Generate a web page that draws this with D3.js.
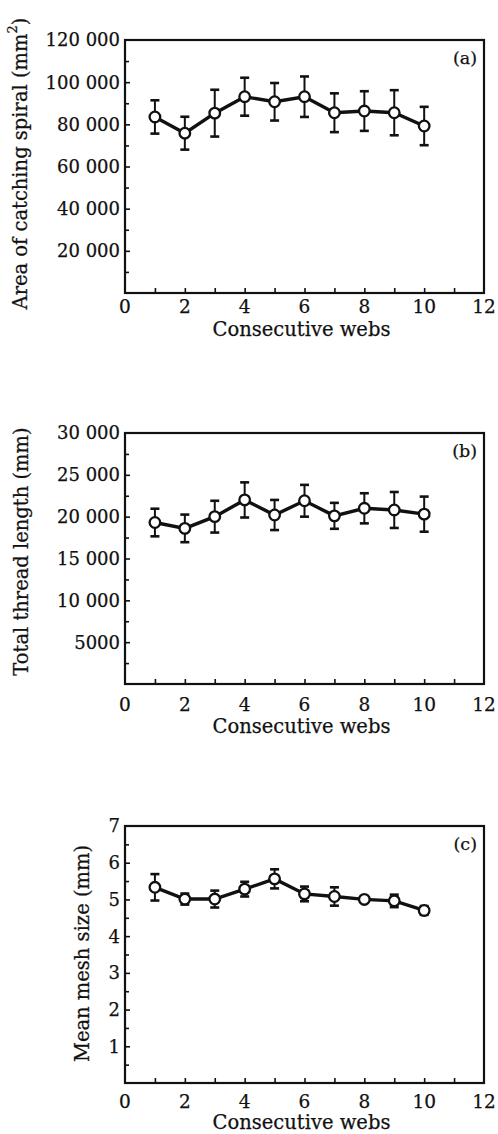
<!DOCTYPE html>
<html>
<head>
<meta charset="utf-8">
<script src="https://cdn.jsdelivr.net/npm/d3@7"></script>
<style>
  body { margin: 0; background: #fff; }
  text { font-family: "DejaVu Serif", serif; fill: #111; stroke: #111; stroke-width: 0.25px; }
</style>
</head>
<body>
<div id="chart"></div>
<script>
// consecutive webs
let webs = [1, 2, 3, 4, 5, 6, 7, 8, 9, 10];
let xTicks = [0, 2, 4, 6, 8, 10, 12];

// (a) area of catching spiral, mean and error
let areaMean = [83500, 75800, 85300, 93100, 90700, 93100, 85500, 86300, 85500, 79200];
let areaErr = [7900, 7800, 11100, 9000, 8900, 9600, 9200, 9400, 10700, 9100];
let areaTicks = [20000, 40000, 60000, 80000, 100000, 120000];

// (b) total thread length
let threadMean = [19300, 18600, 20000, 22000, 20200, 21900, 20100, 21000, 20800, 20300];
let threadErr = [1650, 1650, 1900, 2100, 1800, 1900, 1550, 1800, 2150, 2100];
let threadTicks = [5000, 10000, 15000, 20000, 25000, 30000];

// (c) mean mesh size
let meshMean = [5.33, 5.01, 5.01, 5.28, 5.56, 5.15, 5.08, 5.00, 4.96, 4.70];
let meshErr = [0.36, 0.15, 0.23, 0.20, 0.26, 0.20, 0.25, 0.05, 0.17, 0.12];
let meshTicks = [1, 2, 3, 4, 5, 6, 7];

let width = 498, height = 1134;
let left = 125, right = 484;

let svg = d3.select('#chart').append('svg')
    .attr('width', width)
    .attr('height', height);

// thousands with a space, but 4-digit numbers plain
let fmt = v => v >= 10000 ? d3.format(',')(v).replace(/,/g, ' ') : String(v);

function panel(opt){
    let x = d3.scaleLinear().domain([0, 12]).range([left, right]);
    let y = d3.scaleLinear().domain([0, opt.max]).range([opt.bottom, opt.top]);
    let step = opt.ticks[1] - opt.ticks[0];

    let g = svg.append('g');

    // frame
    g.append('rect')
        .attr('x', left).attr('y', opt.top)
        .attr('width', right - left).attr('height', opt.bottom - opt.top)
        .attr('fill', 'none').attr('stroke', '#111').attr('stroke-width', 2.2);

    // left axis ticks (inward), minor at half steps
    let yAxis = d3.axisRight(y)
        .tickValues(d3.range(step / 2, opt.max, step / 2))
        .tickSize(5)
        .tickFormat('');
    g.append('g').attr('transform', 'translate(' + left + ',0)').call(yAxis)
        .call(s => s.select('.domain').remove())
        .selectAll('line').attr('stroke', '#111').attr('stroke-width', 1.6)
        .attr('x2', d => (d / step) % 1 === 0 ? 5 : 4);

    g.selectAll('.ylab')
        .data(opt.ticks).enter().append('text')
        .attr('x', left - 5)
        .attr('y', d => y(d))
        .attr('dy', '0.36em')
        .attr('text-anchor', 'end')
        .style('font-size', '18px')
        .text(fmt);

    // bottom axis ticks (inward) at every web
    let xAxis = d3.axisTop(x)
        .tickValues(d3.range(1, 12))
        .tickSize(5)
        .tickFormat('');
    g.append('g').attr('transform', 'translate(0,' + opt.bottom + ')').call(xAxis)
        .call(s => s.select('.domain').remove())
        .selectAll('line').attr('stroke', '#111').attr('stroke-width', 1.6);

    g.selectAll('.xlab')
        .data(xTicks).enter().append('text')
        .attr('x', d => x(d))
        .attr('y', opt.bottom + opt.labDy)
        .attr('text-anchor', 'middle')
        .style('font-size', '18.5px')
        .text(d => d);

    g.append('text')
        .attr('x', (left + right) / 2 - 3)
        .attr('y', opt.bottom + opt.titleDy)
        .attr('text-anchor', 'middle')
        .style('font-size', '19.5px')
        .text('Consecutive webs');

    // y title
    let title = g.append('text')
        .attr('transform', 'translate(' + opt.titleX + ',' + ((opt.top + opt.bottom) / 2 + opt.titleShift) + ') rotate(-90)')
        .attr('text-anchor', 'middle')
        .attr('dominant-baseline', 'central')
        .style('font-size', '19.5px')
        .text(opt.title);
    if (opt.sup){
        title.append('tspan').attr('baseline-shift', 'super').style('font-size', '13px').text(opt.sup);
        title.append('tspan').text(')');
    }

    // panel letter
    g.append('text')
        .attr('x', right - 7)
        .attr('y', opt.top + 24)
        .attr('text-anchor', 'end')
        .style('font-size', '17.5px')
        .text(opt.letter);

    let pts = webs.map((w, i) => ({ w: w, m: opt.mean[i], e: opt.err[i] }));

    // error bars
    let bars = g.selectAll('.err').data(pts).enter().append('g')
        .attr('stroke', '#111').attr('stroke-width', 2);
    bars.append('line')
        .attr('x1', d => x(d.w)).attr('x2', d => x(d.w))
        .attr('y1', d => y(d.m - d.e)).attr('y2', d => y(d.m + d.e));
    bars.append('line')
        .attr('x1', d => x(d.w) - 4.5).attr('x2', d => x(d.w) + 4.5)
        .attr('y1', d => y(d.m + d.e)).attr('y2', d => y(d.m + d.e))
        .attr('stroke-width', 2.6);
    bars.append('line')
        .attr('x1', d => x(d.w) - 4.5).attr('x2', d => x(d.w) + 4.5)
        .attr('y1', d => y(d.m - d.e)).attr('y2', d => y(d.m - d.e))
        .attr('stroke-width', 2.6);

    // mean line
    g.append('path')
        .datum(pts)
        .attr('fill', 'none')
        .attr('stroke', '#111')
        .attr('stroke-width', 3.4)
        .attr('d', d3.line().x(d => x(d.w)).y(d => y(d.m)));

    g.selectAll('.pt').data(pts).enter().append('circle')
        .attr('cx', d => x(d.w))
        .attr('cy', d => y(d.m))
        .attr('r', 5.3)
        .attr('fill', '#fff')
        .attr('stroke', '#111')
        .attr('stroke-width', 2.3);
}

panel({ top: 40, bottom: 293, max: 120000, ticks: areaTicks, mean: areaMean, err: areaErr,
        title: 'Area of catching spiral (mm', sup: '2', titleX: 20, titleShift: -3,
        labDy: 20, titleDy: 43, letter: '(a)' });
panel({ top: 433, bottom: 684, max: 30000, ticks: threadTicks, mean: threadMean, err: threadErr,
        title: 'Total thread length (mm)', titleX: 21, titleShift: -7,
        labDy: 27, titleDy: 49, letter: '(b)' });
panel({ top: 826, bottom: 1083, max: 7, ticks: meshTicks, mean: meshMean, err: meshErr,
        title: 'Mean mesh size (mm)', titleX: 82, titleShift: -1,
        labDy: 25, titleDy: 46, letter: '(c)' });
</script>
</body>
</html>
